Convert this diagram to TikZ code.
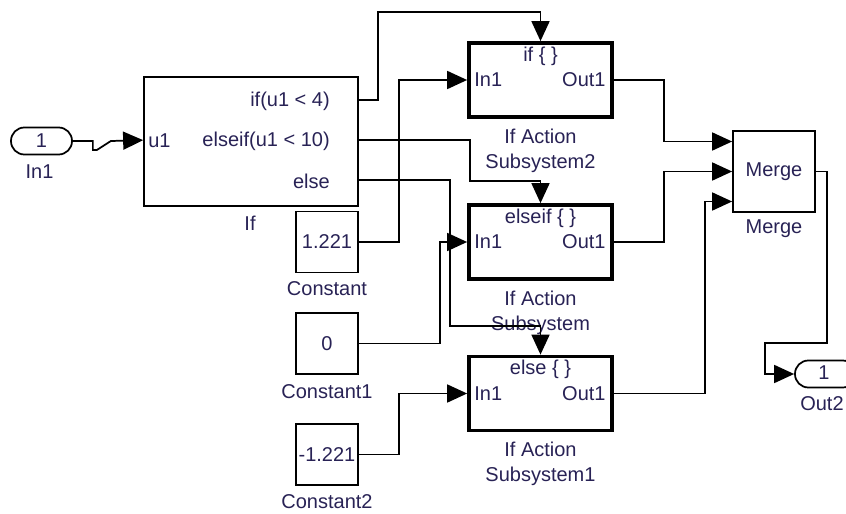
\documentclass[tikz,border=0pt]{standalone}
\usepackage{fontspec}
\setmainfont{Liberation Sans}
\usetikzlibrary{arrows.meta,calc}

\definecolor{labeltext}{RGB}{40,34,85}

\begin{document}
\begin{tikzpicture}[x=0.75pt,y=-0.75pt,
  font=\fontsize{15}{17}\selectfont,
  wire/.style={line width=1.3pt, -{Triangle[length=15pt,width=13.5pt]}},
  block/.style={draw, line width=1.3pt, inner sep=0pt},
  subsys/.style={draw, line width=2.8pt, inner sep=0pt,
    minimum width=107.25pt, minimum height=55.5pt},
  constblk/.style={block, minimum width=46.5pt, minimum height=45.75pt, text=labeltext},
  iport/.style={draw, line width=1.3pt, rounded corners=10pt,
    minimum width=45.75pt, minimum height=20.25pt, inner sep=0pt, text=labeltext},
  lbl/.style={text=labeltext, inner sep=0pt},
]
\useasboundingbox (0,0) rectangle (846,514);
\clip (0,0) rectangle (846,514);

% ---- blocks ----
\node[iport] (in1) at (41.5,141) {1};
\node[lbl] (in1lbl) at (39.5,172) {In1};

\node[block, minimum width=160.5pt, minimum height=96.75pt] (ifblk) at (251,141.5) {};
\coordinate (ifu1) at ($(ifblk.north west)+(0,64)$);
\coordinate (ifo1) at ($(ifblk.north east)+(0,24)$);
\coordinate (ifo2) at ($(ifblk.north east)+(0,64)$);
\coordinate (ifo3) at ($(ifblk.north east)+(0,104)$);
\node[lbl, anchor=west] (u1txt) at (148,141) {u1};
\node[lbl, anchor=east] (o1txt) at (330,101) {if(u1 < 4)};
\node[lbl, anchor=east] (o2txt) at (330,141) {elseif(u1 < 10)};
\node[lbl, anchor=east] (o3txt) at (330,181) {else};
\node[lbl] (iflbl) at (250,223) {If};

\node[constblk] (c0) at (327,242) {1.221};
\node[lbl] (c0lbl) at (327,289) {Constant};
\node[constblk] (c1) at (327,343.5) {0};
\node[lbl] (c1lbl) at (327,392) {Constant1};
\node[constblk] (c2) at (327,454.5) {-1.221};
\node[lbl] (c2lbl) at (327,502) {Constant2};

% action subsystems
\foreach \nm/\yy/\head/\cap in {sub2/80/{if \{ \}}/{Subsystem2},
                                 sub/242/{elseif \{ \}}/{Subsystem},
                                 sub1/393.5/{else \{ \}}/{Subsystem1}}{
  \node[subsys] (\nm) at (540.5,\yy) {};
  \node[lbl] (\nm-head) at ($(\nm.north)+(0,15)$) {\head};
  \node[lbl, anchor=west] (\nm-in) at ($(\nm.west)+(7,0)$) {In1};
  \node[lbl, anchor=east] (\nm-out) at ($(\nm.east)+(-8,0)$) {Out1};
  \node[lbl] (\nm-l1) at ($(\nm.south)+(0,17)$) {If Action};
  \node[lbl] (\nm-l2) at ($(\nm.south)+(0,44)$) {\cap};
}

\node[block, minimum width=61.5pt, minimum height=60.75pt, text=labeltext] (merge) at (774,171.5) {Merge};
\node[lbl] (mergelbl) at (774,229) {Merge};

\node[iport] (out2) at (825.5,374) {};
\node[lbl] (out2num) at (824,373) {1};
\node[lbl, anchor=west] (out2lbl) at (800,404) {Out2};

% ---- signal lines ----
\draw[wire] (in1.east) -- ++(20,0) -- ++(0,9) -- ++(4,0) -- ++(14,-9) -- (ifu1);

\draw[wire] (ifo1) -- ++(19,0) -- ++(0,-88) -| (sub2.north);
\draw[wire] (ifo2) -- ++(111,0) -- ++(0,41) -| (sub.north);
\draw[wire] (ifo3) -- ++(91,0) -- ++(0,146) -| (sub1.north);

\draw[wire] (c0.east) -- ++(40,0) |- (sub2.west);
\draw[wire] (c1.east) -- ++(81,0) |- (sub.west);
\draw[wire] (c2.east) -- ++(40,0) |- (sub1.west);

\draw[wire] (sub2.east) -- ++(50,0) |- ($(merge.west)+(0,-30)$);
\draw[wire] (sub.east) -- ++(50,0) |- (merge.west);
\draw[wire] (sub1.east) -- ++(91,0) |- ($(merge.west)+(0,30)$);

\draw[wire] (merge.east) -- ++(11,0) -- ++(0,171.5) -- ++(-62,0) |- (out2.west);
\end{tikzpicture}
\end{document}
